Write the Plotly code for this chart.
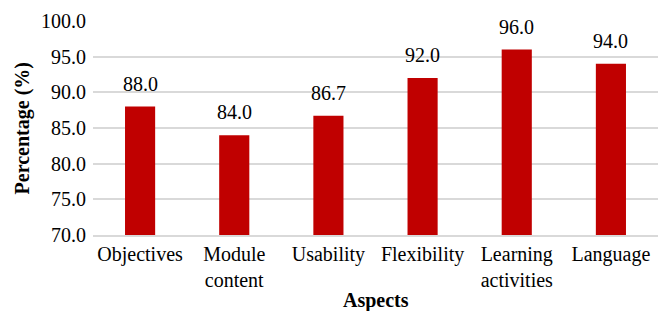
import plotly.graph_objects as go

categories = ["Objectives", "Module<br>content", "Usability", "Flexibility", "Learning<br>activities", "Language"]
values = [88.0, 84.0, 86.7, 92.0, 96.0, 94.0]
y_ticks = [70, 75, 80, 85, 90, 95, 100]
y_tick_labels = ["70.0", "75.0", "80.0", "85.0", "90.0", "95.0", "100.0"]

FONT = "Liberation Serif, Times New Roman, serif"

fig = go.Figure()
fig.add_trace(go.Bar(x=categories, y=values, marker_color="#C00000", marker_line_width=0, width=0.32))

for c, v in zip(categories, values):
    fig.add_annotation(x=c, y=v, text=f"{v:.1f}", showarrow=False, yanchor="bottom",
                       yshift=10, font=dict(family=FONT, size=20, color="#000"))

# axis titles
fig.add_annotation(xref="paper", yref="paper", x=-0.125, y=0.5, text="<b>Percentage (%)</b>",
                   textangle=-90, showarrow=False, xanchor="center", yanchor="middle",
                   font=dict(family=FONT, size=20, color="#000"))
fig.add_annotation(xref="paper", yref="paper", x=0.5, y=-0.305, text="<b>Aspects</b>",
                   showarrow=False, xanchor="center", yanchor="middle",
                   font=dict(family=FONT, size=20, color="#000"))

fig.update_layout(
    width=658, height=311,
    margin=dict(l=93, r=0, t=21, b=76),
    plot_bgcolor="white", paper_bgcolor="white",
    font=dict(family=FONT, size=20, color="#000"),
    showlegend=False,
)
fig.update_yaxes(range=[70, 100], tickvals=y_ticks, ticktext=y_tick_labels,
                 showgrid=True, gridcolor="#D9D9D9", gridwidth=1.5, zeroline=False,
                 showline=False, ticklabelstandoff=6, automargin=False)
fig.update_xaxes(showline=True, linecolor="#D9D9D9", linewidth=1.5, showgrid=False,
                 ticklabelstandoff=0, automargin=False)

fig.write_html("out.html", config={"displayModeBar": False},
               post_script="document.body.style.margin='0';document.body.style.overflow='hidden';")
